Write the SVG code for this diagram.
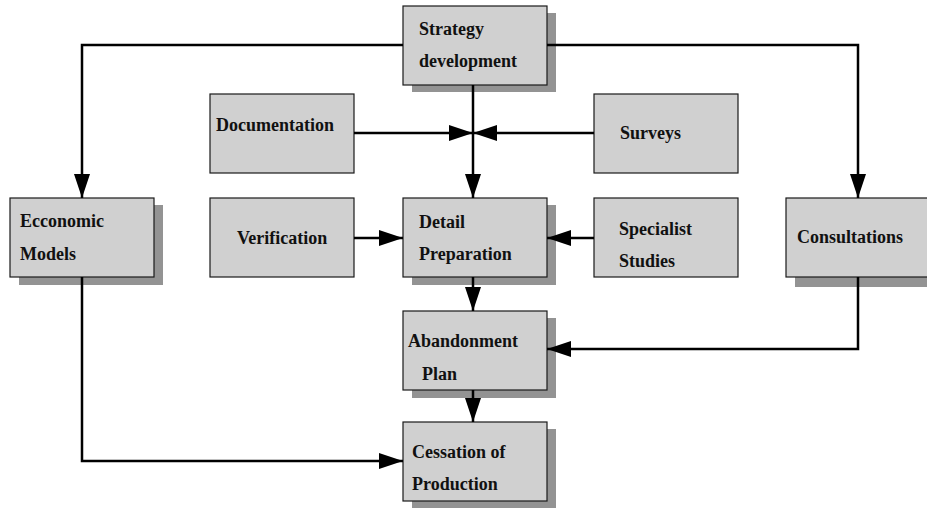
<svg xmlns="http://www.w3.org/2000/svg" width="927" height="509" viewBox="0 0 927 509">
  <style>
    .box { fill: #d0d0d0; stroke: #1a1a1a; stroke-width: 1.2; }
    .shadow { fill: #939393; stroke: none; }
    .label { font-family: "Liberation Serif", "Times New Roman", serif; font-weight: bold; font-size: 18px; fill: #111; }
    .wire { fill: none; stroke: #000; stroke-width: 2.5; marker-end: url(#head); }
    .plain { fill: none; stroke: #000; stroke-width: 2.5; }
  </style>
  <defs>
    <marker id="head" viewBox="0 0 24 16" refX="24" refY="8" markerWidth="24" markerHeight="16" markerUnits="userSpaceOnUse" orient="auto">
      <path d="M0,0 L24,8 L0,16 Z" fill="#000"/>
    </marker>
  </defs>
  <rect width="927" height="509" fill="#fff"/>

  <g id="strategy">
    <rect class="shadow" x="412" y="13" width="144" height="79"/>
    <rect class="box" x="403" y="6" width="144" height="79"/>
    <text class="label" x="419" y="35">Strategy</text>
    <text class="label" x="419" y="67">development</text>
  </g>

  <g id="documentation">
    <rect class="box" x="210" y="94" width="144" height="79"/>
    <text class="label" x="216" y="131">Documentation</text>
  </g>

  <g id="surveys">
    <rect class="box" x="594" y="94" width="144" height="79"/>
    <text class="label" x="620" y="139">Surveys</text>
  </g>

  <g id="economic-models">
    <rect class="shadow" x="19" y="205" width="144" height="80"/>
    <rect class="box" x="10" y="198" width="144" height="79"/>
    <text class="label" x="20" y="227">Ecconomic</text>
    <text class="label" x="20" y="260">Models</text>
  </g>

  <g id="verification">
    <rect class="box" x="210" y="198" width="144" height="79"/>
    <text class="label" x="237" y="244">Verification</text>
  </g>

  <g id="detail-preparation">
    <rect class="shadow" x="412" y="205" width="144" height="80"/>
    <rect class="box" x="403" y="198" width="144" height="79"/>
    <text class="label" x="419" y="228">Detail</text>
    <text class="label" x="419" y="260">Preparation</text>
  </g>

  <g id="specialist-studies">
    <rect class="box" x="594" y="198" width="144" height="79"/>
    <text class="label" x="619" y="235">Specialist</text>
    <text class="label" x="619" y="267">Studies</text>
  </g>

  <g id="consultations">
    <rect class="shadow" x="795" y="205" width="144" height="82"/>
    <rect class="box" x="786" y="198" width="144" height="79"/>
    <text class="label" x="797" y="243">Consultations</text>
  </g>

  <g id="abandonment-plan">
    <rect class="shadow" x="412" y="318" width="144" height="80"/>
    <rect class="box" x="403" y="311" width="144" height="79"/>
    <text class="label" x="408" y="347">Abandonment</text>
    <text class="label" x="422" y="380">Plan</text>
  </g>

  <g id="cessation">
    <rect class="shadow" x="412" y="429" width="144" height="79"/>
    <rect class="box" x="403" y="422" width="144" height="79"/>
    <text class="label" x="412" y="458">Cessation of</text>
    <text class="label" x="412" y="490">Production</text>
  </g>

  <g id="connectors">
    <polyline class="wire" points="403,45 82,45 82,198"/>
    <polyline class="wire" points="547,45 858,45 858,198"/>
    <line class="wire" x1="473" y1="85" x2="473" y2="198"/>
    <line class="wire" x1="354" y1="133" x2="473" y2="133"/>
    <line class="wire" x1="594" y1="133" x2="473" y2="133"/>
    <line class="wire" x1="354" y1="238" x2="403" y2="238"/>
    <line class="wire" x1="594" y1="238" x2="547" y2="238"/>
    <line class="wire" x1="473" y1="277" x2="473" y2="311"/>
    <polyline class="wire" points="858,277 858,349 547,349"/>
    <line class="wire" x1="473" y1="390" x2="473" y2="422"/>
    <polyline class="wire" points="82,277 82,461 403,461"/>
  </g>
</svg>
